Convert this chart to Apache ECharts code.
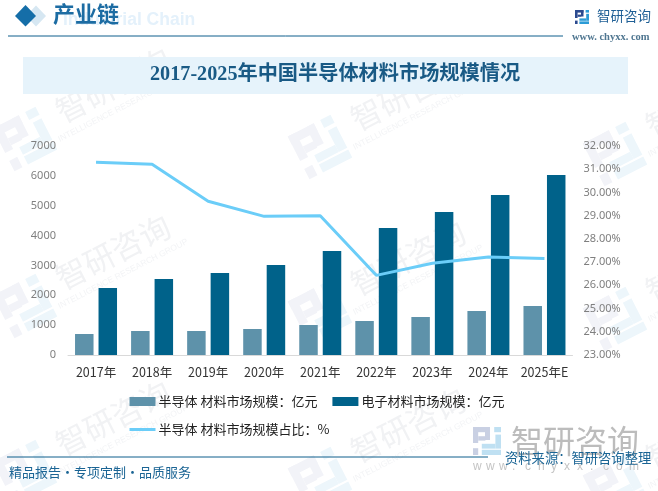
<!DOCTYPE html>
<html>
<head>
<meta charset="utf-8">
<style>
html, body { margin: 0; padding: 0; background: #fff; }
#main { width: 658px; height: 491px; }
</style>
<script src="https://cdn.jsdelivr.net/npm/echarts@6/dist/echarts.min.js"></script>
</head>
<body>
<div id="main"></div>
<script>
// values
var years = ['2017年', '2018年', '2019年', '2020年', '2021年', '2022年', '2023年', '2024年', '2025年E'];
var semiValues = [703, 804, 804, 871, 1005, 1139, 1273, 1474, 1641];
var elecValues = [2244, 2545, 2746, 3014, 3483, 4254, 4789, 5359, 6029];
var shareValues = [31.3, 31.21, 29.62, 28.97, 29.0, 26.43, 26.95, 27.22, 27.16];
var semiName = '半导体 材料市场规模：亿元';
var elecName = '电子材料市场规模：亿元';
var shareName = '半导体 材料市场规模占比：%';

var cjk = '"Noto Sans CJK SC", sans-serif';
var serif = '"Liberation Serif", "Noto Sans CJK SC", serif';
var tilt = 27 * Math.PI / 180;

// the company mark, drawn on a 14 unit square
function logo(x, y, size, rotation, colorA, colorB) {
    var u = size / 14;
    var partsA = [[0, 0, 8.5, 2.6], [0, 0, 2.6, 8], [6, 0, 2.5, 6.5], [2.6, 4.6, 3.6, 2.2], [0, 10.6, 2.6, 3.4]];
    var partsB = [[10.6, 0, 3.4, 2.6], [11.2, 3.8, 2.8, 7], [4.4, 8.4, 6.8, 2.4], [4.4, 11.4, 9.6, 2.6]];
    var children = [];
    partsA.forEach(function (p) {
        children.push({ type: 'rect', shape: { x: p[0] * u, y: p[1] * u, width: p[2] * u, height: p[3] * u }, style: { fill: colorA } });
    });
    partsB.forEach(function (p) {
        children.push({ type: 'rect', shape: { x: p[0] * u, y: p[1] * u, width: p[2] * u, height: p[3] * u }, style: { fill: colorB } });
    });
    return { type: 'group', x: x, y: y, rotation: rotation, originX: size / 2, originY: size / 2, children: children };
}

function txt(x, y, text, font, color) {
    return { type: 'text', style: { x: x, y: y, text: text, font: font, fill: color, verticalAlign: 'middle' } };
}

// tiled watermark, centres of the tilted text
var markCentres = [[113, 85], [113, 252], [113, 418], [408, 93], [408, 258], [408, 425], [703, 100], [703, 265], [703, 432]];
var graphics = [];
markCentres.forEach(function (c) {
    graphics.push({
        type: 'text', x: c[0], y: c[1], rotation: tilt,
        style: { x: 0, y: 0, text: '智研咨询', font: '400 31px ' + cjk, fill: '#f1f2f4', align: 'center', verticalAlign: 'middle' }
    });
    graphics.push({
        type: 'text', x: c[0] + 10, y: c[1] + 22, rotation: tilt,
        style: { x: 0, y: 0, text: 'INTELLIGENCE RESEARCH GROUP', font: '400 8.5px "Liberation Sans", sans-serif', fill: '#f3f4f6', align: 'center', verticalAlign: 'middle' }
    });
    graphics.push(logo(c[0] - 112, c[1] + 30, 48, tilt, '#f2f3f8', '#edf6fb'));
});

graphics.push(
    // header
    { type: 'polygon', shape: { points: [[36, 5.5], [46, 16], [36, 26.5], [26, 16]] }, style: { fill: '#d6e7f2' } },
    { type: 'polygon', shape: { points: [[25.5, 5], [36, 16], [25.5, 26.5], [15, 16]] }, style: { fill: '#156ea8' } },
    txt(63, 20, 'Industrial Chain', 'bold 17.5px "Liberation Sans", sans-serif', '#e4f1fb'),
    txt(53, 16, '产业链', 'bold 22px ' + serif, '#1c6ca3'),
    { type: 'line', shape: { x1: 8, y1: 36, x2: 563, y2: 36 }, style: { stroke: '#0f5f8c', lineWidth: 1 } },
    logo(575, 10, 14, 0, '#2b4a8f', '#2b9bd6'),
    txt(597, 16, '智研咨询', '13.5px ' + cjk, '#1f5f95'),
    txt(572, 37, 'www. chyxx. com', 'bold 10.5px "Liberation Serif", serif', '#4f7690'),
    // title band
    { type: 'rect', shape: { x: 23, y: 57, width: 605, height: 37 }, style: { fill: '#e6f3fb' } },
    // bottom right brand block
    logo(473, 427, 28, 0, '#c9d0e3', '#bfe0f2'),
    txt(511, 441, '智研咨询', '32px ' + cjk, '#bcbcbc')
);
'www.chyxx.com'.split('').forEach(function (ch, i) {
    graphics.push(txt(473 + i * 13, 467, ch, '12px "Liberation Sans", sans-serif', '#c4c4c4'));
});
graphics.push(
    // footer
    { type: 'line', shape: { x1: 7, y1: 457, x2: 488, y2: 457 }, style: { stroke: '#0f5f8c', lineWidth: 1 } },
    txt(9, 472, '精品报告·专项定制·品质服务', '13px ' + cjk, '#1a6494'),
    txt(505, 458, '资料来源：智研咨询整理', '13.3px ' + cjk, '#1a6494')
);

var chart = echarts.init(document.getElementById('main'), null, { renderer: 'canvas' });
chart.setOption({
    animation: false,
    backgroundColor: '#fff',
    title: {
        text: '2017-2025年中国半导体材料市场规模情况',
        left: 150, top: 65,
        padding: 0,
        textStyle: { fontFamily: serif, fontSize: 20.2, fontWeight: 'bold', color: '#195a85' }
    },
    graphic: graphics,
    grid: { left: 68, right: 85.5, top: 146, bottom: 136 },
    legend: {
        left: 128, top: 395, width: 420, padding: 0,
        itemWidth: 26, itemHeight: 9, itemGap: 15,
        textStyle: { fontFamily: cjk, fontSize: 13, color: '#222', padding: [0, 0, 0, -2] },
        data: [
            { name: semiName, icon: 'rect' },
            { name: elecName, icon: 'rect' },
            { name: shareName, itemStyle: { opacity: 0 }, lineStyle: { width: 3 } }
        ]
    },
    xAxis: {
        type: 'category',
        data: years,
        axisTick: { show: false },
        axisLine: { lineStyle: { color: '#d9d9d9' } },
        axisLabel: { interval: 0, margin: 11, fontFamily: cjk, fontSize: 12.5, color: '#333' }
    },
    yAxis: [
        {
            type: 'value', min: 0, max: 7000, interval: 1000,
            splitLine: { show: false }, axisLine: { show: false }, axisTick: { show: false },
            axisLabel: {
                margin: 12, fontFamily: '"Noto Sans", sans-serif', fontSize: 11, color: '#7f7f7f',
                formatter: function (v) { return String(v); }
            }
        },
        {
            type: 'value', min: 23, max: 32, interval: 1,
            splitLine: { show: false }, axisLine: { show: false }, axisTick: { show: false },
            axisLabel: {
                margin: 11, fontFamily: '"Noto Sans", sans-serif', fontSize: 11, color: '#7f7f7f',
                formatter: function (v) { return v.toFixed(2) + '%'; }
            }
        }
    ],
    series: [
        { name: semiName, type: 'bar', data: semiValues, barWidth: 18.5, barGap: '27%', itemStyle: { color: '#5e92aa' } },
        { name: elecName, type: 'bar', data: elecValues, barWidth: 18.5, itemStyle: { color: '#00628a' } },
        {
            name: shareName, type: 'line', yAxisIndex: 1, data: shareValues,
            symbol: 'none', lineStyle: { width: 3, color: '#6bcdf8' }, itemStyle: { color: '#6bcdf8' }, z: 5
        }
    ]
});
</script>
</body>
</html>
